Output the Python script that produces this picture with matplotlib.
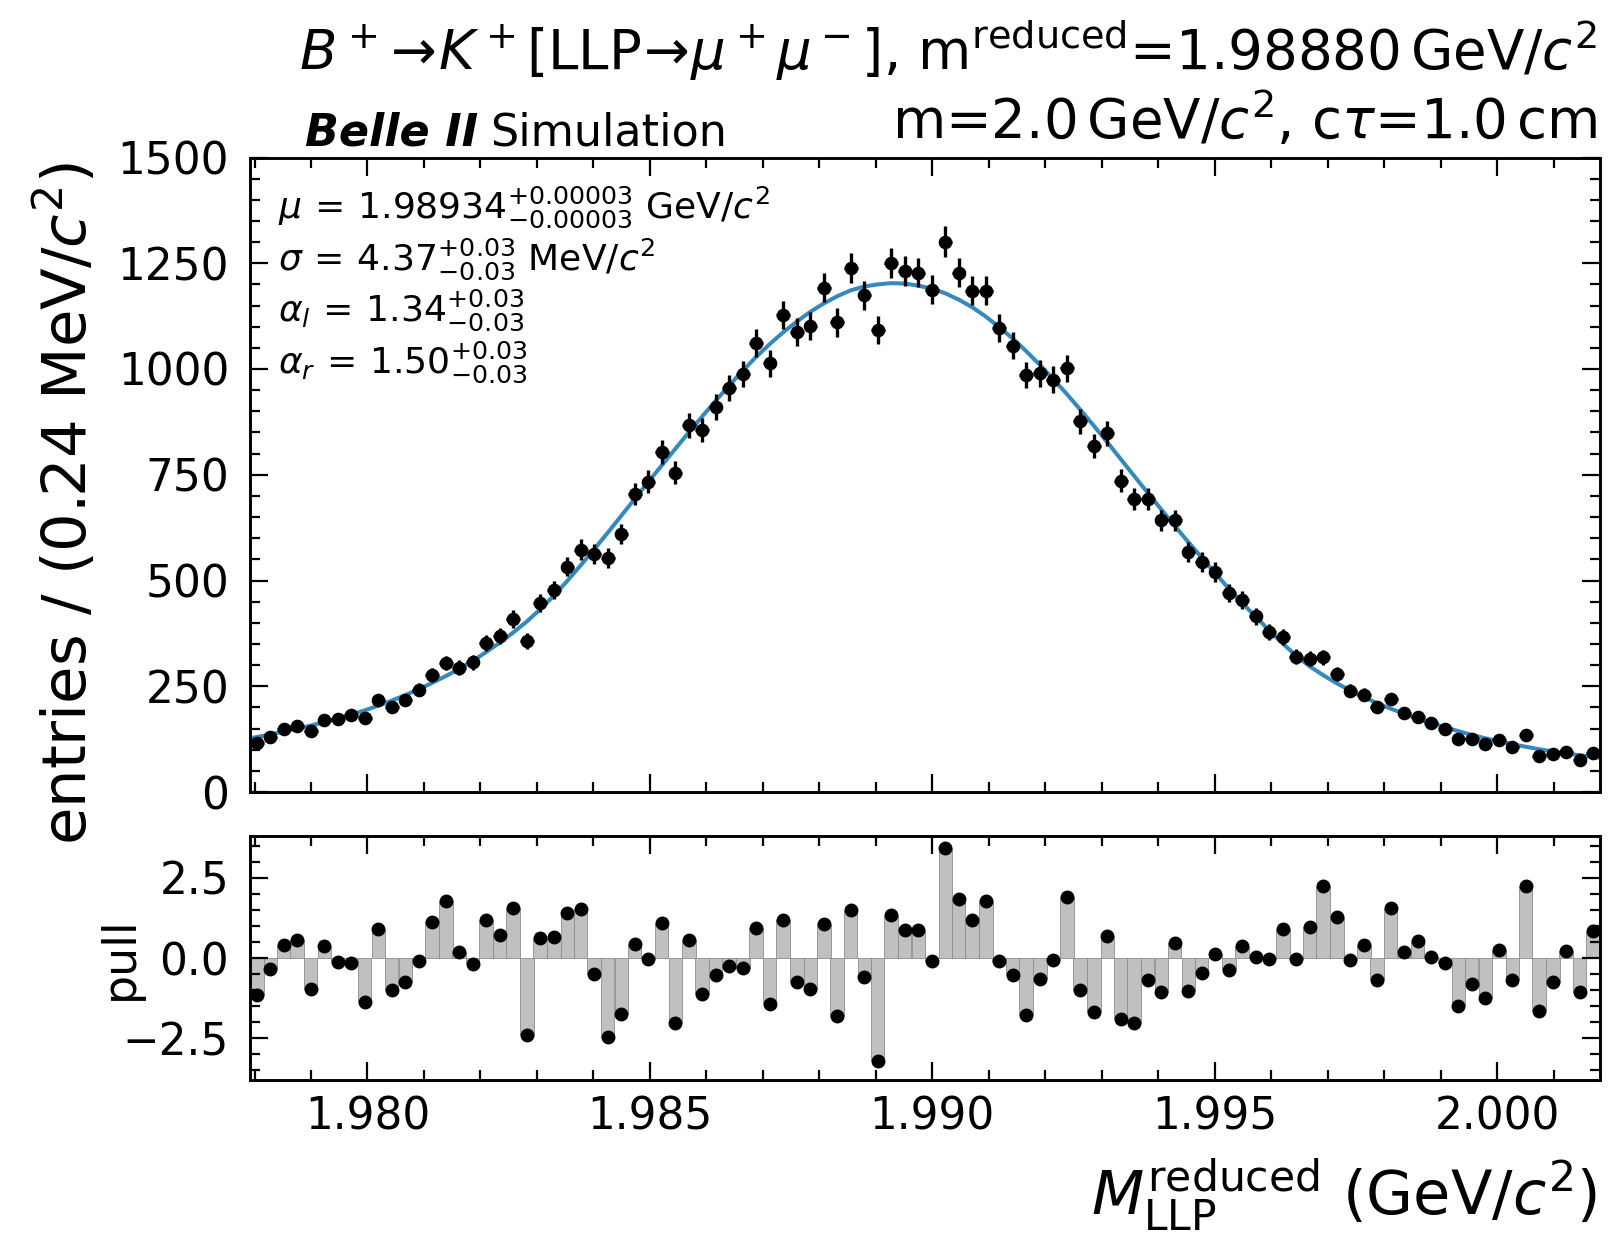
import numpy as np
import matplotlib
matplotlib.use('Agg')
import matplotlib.pyplot as plt
from matplotlib.ticker import MultipleLocator, FormatStrFormatter

plt.rcParams['font.family'] = ['DejaVu Sans']
plt.rcParams['mathtext.fontset'] = 'dejavusans'

# histogram binning of M_LLP^reduced (GeV/c^2)
m_lo, m_hi, n_bins = 1.97792, 2.00182, 100

# entries per bin
counts = np.array([
    117, 131, 149, 157, 145, 171, 173, 182, 175, 218,
    202, 218, 242, 277, 305, 294, 307, 353, 368, 409,
    356, 447, 478, 533, 573, 563, 553, 610, 705, 734,
    803, 755, 867, 856, 910, 956, 988, 1061, 1014, 1127,
    1088, 1102, 1192, 1110, 1238, 1174, 1092, 1251, 1232, 1228,
    1187, 1301, 1228, 1185, 1185, 1096, 1055, 986, 990, 975,
    1002, 876, 817, 848, 736, 693, 693, 642, 642, 567,
    543, 520, 470, 453, 415, 378, 366, 320, 315, 318,
    279, 239, 230, 200, 220, 187, 178, 163, 150, 125,
    125, 114, 123, 106, 135, 86, 90, 94, 76, 92])

# pull per bin
pulls = np.array([
    -1.16, -0.33, 0.41, 0.55, -0.97, 0.37, -0.14, -0.16, -1.37, 0.91,
    -1.00, -0.75, -0.09, 1.12, 1.77, 0.19, -0.20, 1.19, 0.73, 1.55,
    -2.41, 0.62, 0.64, 1.41, 1.53, -0.51, -2.45, -1.73, 0.45, -0.02,
    1.10, -2.02, 0.55, -1.13, -0.54, -0.25, -0.30, 0.94, -1.42, 1.19,
    -0.75, -0.97, 1.05, -1.81, 1.50, -0.59, -3.20, 1.35, 0.88, 0.88,
    -0.10, 3.42, 1.84, 1.17, 1.79, -0.10, -0.54, -1.76, -0.64, -0.05,
    1.89, -1.00, -1.69, 0.67, -1.91, -2.02, -0.67, -1.06, 0.47, -1.02,
    -0.47, 0.11, -0.38, 0.37, 0.03, -0.02, 0.89, -0.04, 0.96, 2.23,
    1.27, -0.07, 0.39, -0.67, 1.56, 0.19, 0.52, 0.03, -0.17, -1.49,
    -0.82, -1.24, 0.24, -0.69, 2.25, -1.66, -0.75, 0.21, -1.07, 0.83])

# fitted curve at the bin centres, plus its values at both ends of the range
fit_y = np.array([
    130, 136, 143, 150, 157, 165, 174, 183, 193, 204,
    216, 229, 243, 258, 274, 291, 310, 331, 353, 377,
    403, 432, 464, 499, 536, 574, 613, 653, 693, 733,
    772, 811, 850, 888, 925, 961, 996, 1029, 1059, 1087,
    1112, 1135, 1155, 1172, 1186, 1195, 1200, 1203, 1202, 1197,
    1190, 1179, 1164, 1146, 1124, 1099, 1072, 1042, 1010, 976,
    941, 904, 866, 827, 787, 747, 707, 668, 629, 591,
    554, 517, 481, 447, 414, 382, 351, 322, 297, 276,
    257, 240, 224, 210, 197, 185, 173, 163, 153, 144,
    135, 127, 120, 113, 107, 101, 96, 91, 87, 83])
fit_lo, fit_hi = 127, 81

fit_text = [r'$\mu\,=\,1.98934^{+0.00003}_{-0.00003}$ GeV/$c^2$',
            r'$\sigma\,=\,4.37^{+0.03}_{-0.03}$ MeV/$c^2$',
            r'$\alpha_l\,=\,1.34^{+0.03}_{-0.03}$',
            r'$\alpha_r\,=\,1.50^{+0.03}_{-0.03}$']

title1 = (r'$B^+\!\rightarrow\!K^+$[LLP$\!\rightarrow\!\mu^+\mu^-$], '
          r'm$^{\mathrm{reduced}}$=1.98880$\,$GeV/$c^2$')
title2 = r'm=2.0$\,$GeV/$c^2$, c$\tau$=1.0$\,$cm'

edges = np.linspace(m_lo, m_hi, n_bins + 1)
centers = 0.5 * (edges[1:] + edges[:-1])
bw = edges[1] - edges[0]
curve_x = np.concatenate([[m_lo], centers, [m_hi]])
curve_y = np.concatenate([[fit_lo], fit_y, [fit_hi]])

W, H = 1610, 1234
fig = plt.figure(figsize=(W / 100, H / 100), dpi=100)


def box(l, t, r, b):
    return [l / W, 1 - b / H, (r - l) / W, (b - t) / H]


def fx(x):
    return x / W


def fy(y):
    return 1 - y / H


ax = fig.add_axes(box(250, 157.5, 1600, 792))
axp = fig.add_axes(box(250, 836, 1600, 1080), sharex=ax)

ax.plot(curve_x, curve_y, color='#348abd', lw=2.9, zorder=2)
ax.errorbar(centers, counts, yerr=np.sqrt(counts), xerr=bw / 2, fmt='o',
            color='black', ms=8.8, elinewidth=2.4, capsize=0, zorder=3)

axp.bar(centers, pulls, width=bw, color='#c0c0c0', edgecolor='#8c8c8c',
        linewidth=0.6, zorder=1)
axp.plot(centers, pulls, 'o', color='black', ms=9, zorder=3)

ax.set_xlim(m_lo, m_hi)
ax.set_ylim(0, 1500)
axp.set_ylim(-3.8, 3.8)

ax.yaxis.set_major_locator(MultipleLocator(250))
ax.yaxis.set_minor_locator(MultipleLocator(50))
ax.xaxis.set_major_locator(MultipleLocator(0.005))
ax.xaxis.set_minor_locator(MultipleLocator(0.001))
ax.xaxis.set_major_formatter(FormatStrFormatter('%.3f'))
axp.yaxis.set_major_locator(MultipleLocator(2.5))
axp.yaxis.set_minor_locator(MultipleLocator(0.5))

for a in (ax, axp):
    a.tick_params(which='both', direction='in', top=True, right=True,
                  width=1.6, labelsize=31.5)
    a.tick_params(which='major', length=13)
    a.tick_params(which='minor', length=7)
    a.tick_params(axis='y', pad=15)
    a.tick_params(axis='x', pad=11)
    for s in a.spines.values():
        s.set_linewidth(2.1)
ax.tick_params(labelbottom=False)

# labels
fig.text(fx(87), fy(503), r'entries / (0.24 MeV/$c^2$)', fontsize=43.8,
         rotation=90, rotation_mode='anchor', ha='center', va='baseline')
fig.text(fx(133), fy(958), 'pull', fontsize=33,
         rotation=90, rotation_mode='anchor', ha='center', va='baseline')
fig.text(fx(1597), fy(1215), r'$M_{\mathrm{LLP}}^{\mathrm{reduced}}$ (GeV/$c^2$)',
         fontsize=43.7, ha='right', va='baseline')

fig.text(fx(1597), fy(70), title1, fontsize=39.3, ha='right', va='baseline')
fig.text(fx(1597), fy(139), title2, fontsize=39.3, ha='right', va='baseline')

t_belle = fig.text(fx(305), fy(146), 'Belle II', fontsize=32, fontweight='bold',
                   fontstyle='italic', ha='left', va='baseline')
fig.canvas.draw()
bb = t_belle.get_window_extent()
fig.text((bb.x1 + 12) / W, fy(146), 'Simulation', fontsize=32,
         ha='left', va='baseline')

for k, s in enumerate(fit_text):
    fig.text(fx(278), fy(218 + 51.7 * k), s, fontsize=26, ha='left', va='baseline')

fig.savefig('out.png', dpi=100)
